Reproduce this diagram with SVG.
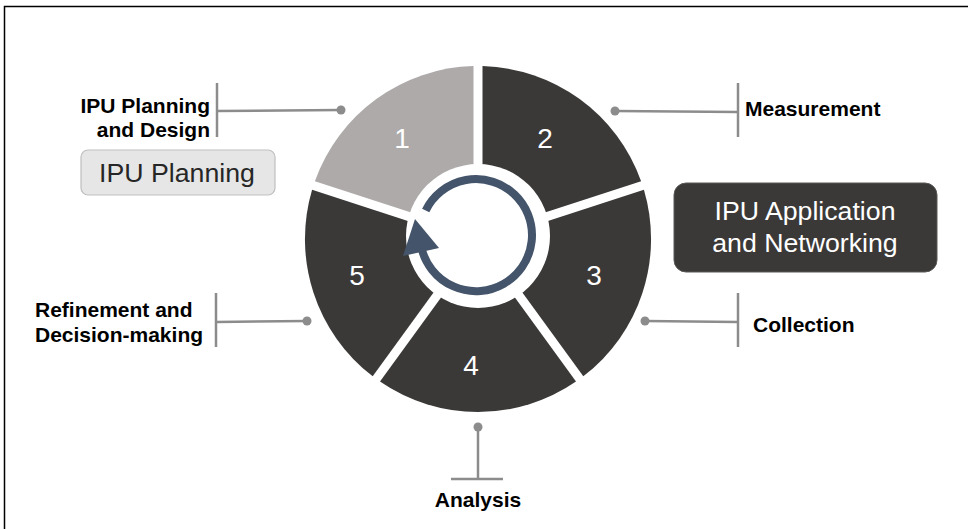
<svg xmlns="http://www.w3.org/2000/svg" width="968" height="529" viewBox="0 0 968 529">
  <defs>
    <style>
      .dark { fill: #3B3937; }
      .light { fill: #ADAAA9; }
      .num { font-family: "Liberation Sans", Arial, sans-serif; font-size: 28px; fill: #FFFFFF; text-anchor: middle; }
      .lbl { font-family: "Liberation Sans", Arial, sans-serif; font-size: 21px; font-weight: bold; fill: #000000; }
      .box { font-family: "Liberation Sans", Arial, sans-serif; font-size: 26.7px; text-anchor: middle; }
      .conn { stroke: #8C8C8C; stroke-width: 2.5; fill: none; }
      .dot { fill: #8C8C8C; }
    </style>
  </defs>
  <rect x="0" y="0" width="968" height="529" fill="#FFFFFF"/>
  <rect x="4.5" y="6.5" width="1000" height="600" fill="none" stroke="#000000" stroke-width="1.5"/>

  <g id="seg1">
    <path class="light" d="M 314.9 181.2 A 173 173 0 0 1 473.5 66.1 L 473.5 232.8 Z"/>
    <text class="num" x="402" y="148">1</text>
  </g>
  <g id="seg2">
    <path class="dark" d="M 482.5 66.1 A 173 173 0 0 1 641.1 181.3 L 482.5 232.8 Z"/>
    <text class="num" x="545" y="148">2</text>
  </g>
  <g id="seg3">
    <path class="dark" d="M 643.9 189.8 A 173 173 0 0 1 583.3 376.3 L 485.3 241.4 Z"/>
    <text class="num" x="594" y="285">3</text>
  </g>
  <g id="seg4">
    <path class="dark" d="M 576.0 381.6 A 173 173 0 0 1 380.0 381.6 L 478 246.7 Z"/>
    <text class="num" x="471" y="375">4</text>
  </g>
  <g id="seg5">
    <path class="dark" d="M 372.7 376.3 A 173 173 0 0 1 312.1 189.8 L 470.7 241.4 Z"/>
    <text class="num" x="357" y="285">5</text>
  </g>

  <g id="cycle">
    <circle cx="478" cy="236" r="72" fill="#FFFFFF"/>
    <path d="M 425.7 210.5 A 56 56 0 1 1 421.4 247.6" fill="none" stroke="#44546A" stroke-width="8"/>
    <polygon points="415,219 403,256 439,248" fill="#44546A"/>
  </g>

  <g id="connectors">
    <line class="conn" x1="217" y1="111" x2="341" y2="110"/>
    <line class="conn" x1="217" y1="83" x2="217" y2="137"/>
    <circle class="dot" cx="341" cy="110" r="4.5"/>

    <line class="conn" x1="615" y1="111" x2="738" y2="112"/>
    <line class="conn" x1="738" y1="83" x2="738" y2="137"/>
    <circle class="dot" cx="615" cy="111" r="4.5"/>

    <line class="conn" x1="645" y1="321" x2="738" y2="322"/>
    <line class="conn" x1="738" y1="293" x2="738" y2="347"/>
    <circle class="dot" cx="645" cy="321" r="4.5"/>

    <line class="conn" x1="216" y1="322" x2="307" y2="321"/>
    <line class="conn" x1="216" y1="293" x2="216" y2="347"/>
    <circle class="dot" cx="307" cy="321" r="4.5"/>

    <line class="conn" x1="478" y1="427" x2="478" y2="479"/>
    <line class="conn" x1="451" y1="479" x2="503" y2="479"/>
    <circle class="dot" cx="478" cy="427" r="4.5"/>
  </g>

  <g id="label-planning-design">
    <text class="lbl" x="210" y="113" text-anchor="end">IPU Planning</text>
    <text class="lbl" x="210" y="137" text-anchor="end">and Design</text>
  </g>
  <g id="label-measurement">
    <text class="lbl" x="745" y="116">Measurement</text>
  </g>
  <g id="label-collection">
    <text class="lbl" x="753" y="332">Collection</text>
  </g>
  <g id="label-analysis">
    <text class="lbl" x="478" y="507" text-anchor="middle">Analysis</text>
  </g>
  <g id="label-refinement">
    <text class="lbl" x="35" y="317">Refinement and</text>
    <text class="lbl" x="35" y="342">Decision-making</text>
  </g>

  <g id="box-planning">
    <rect x="81" y="150" width="194" height="45" rx="7" fill="#E6E6E6" stroke="#BFBFBF" stroke-width="1.2"/>
    <text class="box" x="177" y="182" fill="#262626">IPU Planning</text>
  </g>
  <g id="box-application">
    <rect x="674" y="183" width="263" height="89" rx="12" fill="#3B3937" stroke="#5A5856" stroke-width="1"/>
    <text class="box" x="805" y="220" fill="#FFFFFF">IPU Application</text>
    <text class="box" x="805" y="252" fill="#FFFFFF">and Networking</text>
  </g>
</svg>
